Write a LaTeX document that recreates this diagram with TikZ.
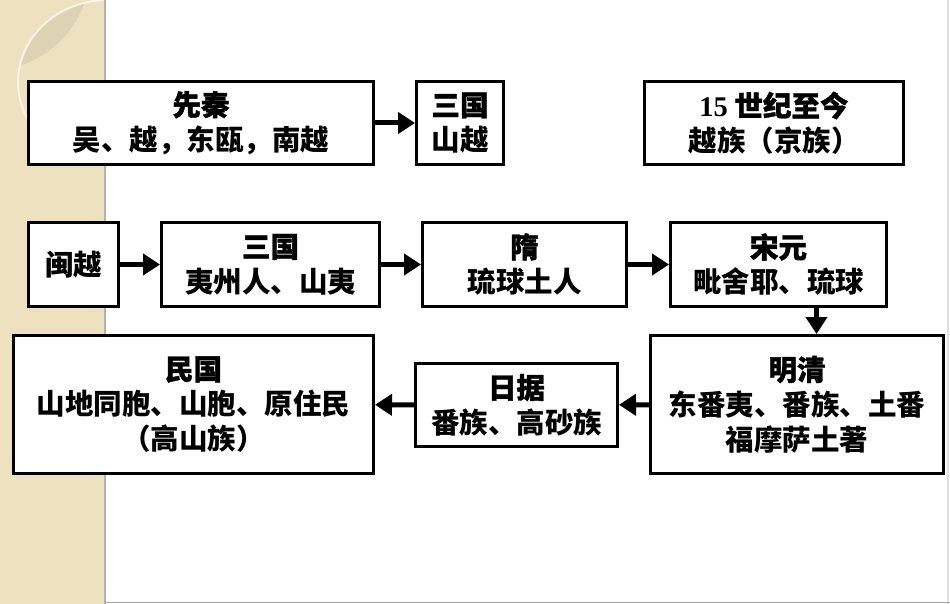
\documentclass[tikz,border=0pt]{standalone}
\usepackage{fontspec}
\setmainfont{Noto Sans CJK SC}
\newfontfamily\headfont{Noto Sans CJK SC}[BoldFeatures={FakeBold=1.2}]
\newfontfamily\numfont{Liberation Serif}
\usetikzlibrary{arrows.meta}

\definecolor{stripbg}{RGB}{237,225,192}
\definecolor{lensdark}{RGB}{221,210,180}
\definecolor{lenslight}{RGB}{244,236,214}
\definecolor{ringcol}{RGB}{250,245,230}

\tikzset{
    erabox/.style={draw=black, line width=3pt, fill=white, inner sep=0pt,
        align=center, font=\bfseries\fontsize{28.5}{35}\selectfont},
    thickarrow/.style={line width=5pt, -{Triangle[length=17pt,width=21pt]}}
}
\newcommand{\era}[1]{{\headfont\bfseries #1}}

\begin{document}
\begin{tikzpicture}[x=1pt, y=-1pt]
    \useasboundingbox (0,0) rectangle (950,604);
    % Background
    \fill[white] (0,0) rectangle (950,604);
    \fill[stripbg] (0,0) rectangle (104,604);
    \begin{scope}
        \clip (0,0) rectangle (104,604);
        \clip (108,82) ellipse (90pt and 82pt);
        \fill[lensdark] (-10,-30) circle (100pt);
        \fill[lenslight] (125,235) circle (118pt);
    \end{scope}
    \begin{scope}
        \clip (0,0) rectangle (104,604);
        \draw[ringcol, line width=2pt] (108,82) ellipse (90pt and 82pt);
    \end{scope}
    \fill[black!30] (104,0) rectangle (105.5,604);
    \draw[black!12, line width=1.5pt] (948,0) -- (948,604);
    \draw[black!35, line width=1.5pt] (105,602.5) -- (950,602.5);

    % Top row
    \node[erabox, minimum width=345pt, minimum height=83pt]
        (xianqin) at (201,123) {\era{先秦}\\吴、越，东瓯，南越};
    \node[erabox, minimum width=87pt, minimum height=83pt]
        (sanguoA) at (460,123) {\era{三国}\\山越};
    \node[erabox, minimum width=259pt, minimum height=83pt]
        (jingzu) at (774,123) {{\numfont\bfseries 15} \era{世纪至今}\\越族（京族）};

    % Middle row
    \node[erabox, minimum width=90pt, minimum height=84pt]
        (minyue) at (73.5,264.5) {闽越};
    \node[erabox, minimum width=218pt, minimum height=84pt]
        (sanguoB) at (270.5,264.5) {\era{三国}\\夷州人、山夷};
    \node[erabox, minimum width=204pt, minimum height=84pt]
        (sui) at (524.5,264.5) {\era{隋}\\琉球土人};
    \node[erabox, minimum width=216pt, minimum height=84pt]
        (songyuan) at (778.5,264.5) {\era{宋元}\\毗舍耶、琉球};

    % Bottom row
    \node[erabox, minimum width=293pt, minimum height=138pt]
        (mingqing) at (797,404.5) {\era{明清}\\东番夷、番族、土番\\福摩萨土著};
    \node[erabox, minimum width=202pt, minimum height=83pt]
        (riju) at (516.5,405) {\era{日据}\\番族、高砂族};
    \node[erabox, minimum width=360pt, minimum height=138pt]
        (minguo) at (193.5,404.5) {\era{民国}\\山地同胞、山胞、原住民\\（高山族）};

    % Arrows
    \draw[thickarrow] (xianqin) -- (sanguoA);
    \foreach \a/\b in {minyue/sanguoB, sanguoB/sui, sui/songyuan} {
        \draw[thickarrow] (\a) -- (\b);
    }
    \draw[thickarrow] ([xshift=38pt]songyuan.south) -- ([xshift=38pt]songyuan.south |- mingqing.north);
    \foreach \a/\b in {mingqing/riju, riju/minguo} {
        \draw[thickarrow] (\a) -- (\b);
    }
\end{tikzpicture}
\end{document}
